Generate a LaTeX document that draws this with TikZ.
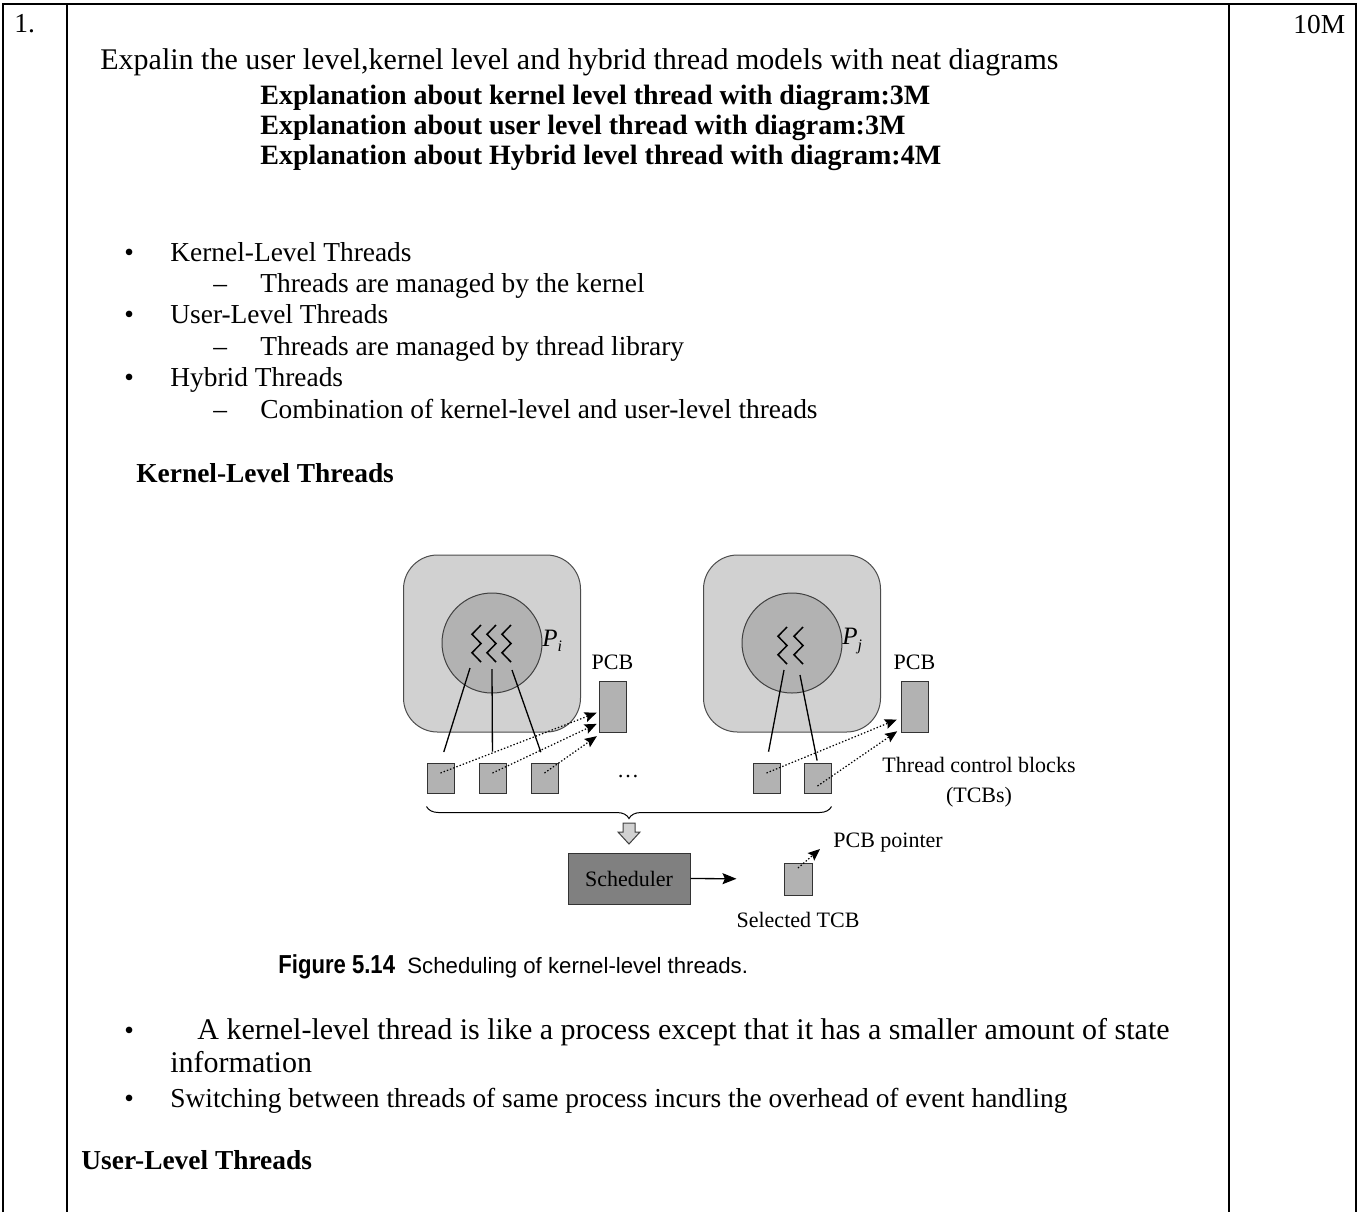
\documentclass[tikz,border=0pt]{standalone}
\usepackage{fontspec}
\setmainfont{Liberation Serif}
\setsansfont{Liberation Sans}
\usetikzlibrary{positioning,arrows.meta,decorations.pathreplacing}

\tikzset{
  body/.style={anchor=base west, inner sep=0pt, font=\fontsize{13.7}{16}\selectfont},
  bodybf/.style={body, font=\fontsize{14}{16}\selectfont\bfseries},
  bodyl/.style={body, font=\fontsize{15}{17}\selectfont},
  fig/.style={inner sep=0pt, font=\fontsize{11}{15}\selectfont},
  rule/.style={line width=1.2pt},
  proc/.style={draw=black!70, fill=black!18, rounded corners=17pt, minimum width=88.5pt, minimum height=88.5pt, line width=0.5pt},
  core/.style={circle, draw=black!75, fill=black!30, minimum size=50pt, line width=0.5pt},
  tcb/.style={draw=black!80, fill=black!30, minimum width=13.5pt, minimum height=15pt, inner sep=0pt, line width=0.5pt},
  pcb/.style={tcb, minimum height=25.5pt},
  link/.style={line width=0.65pt},
  ptr/.style={dash pattern=on 0.7pt off 1pt, line width=0.6pt, -{Stealth[length=6pt,width=5pt,inset=1pt]}},
}
\newcommand{\zigzag}[2]{\draw[line width=0.75pt] (#1+9,#2) -- ++(-9,9.25) -- ++(9,9.25) -- ++(-9,9.25) -- ++(9,9.25);}

\begin{document}
\begin{tikzpicture}[x=0.5pt,y=-0.5pt]
  \useasboundingbox (0,0) rectangle (1359,1212);

  % table frame
  \draw[rule] (3,1212) -- (3,4) -- (1356,4) -- (1356,1212);
  \draw[rule] (67,4) -- (67,1212);
  \draw[rule] (1229,4) -- (1229,1212);

  \node[body] (num) at (14,32) {1.};
  \node[body] (marks) at (1293,33) {10M};

  \node[bodyl] (question) at (100,69) {Expalin the user level,kernel level and hybrid thread models with neat diagrams};
  \node[bodybf] (schemeA) at (260,104) {Explanation about kernel level thread with diagram:3M};
  \node[bodybf] (schemeB) at (260,134) {Explanation about user level thread with diagram:3M};
  \node[bodybf] (schemeC) at (260,164) {Explanation about Hybrid level thread with diagram:4M};

  % bullet list
  \node[body] (dotA) at (124,261) {\textbullet};
  \node[body] (itemA) at (170,261) {Kernel-Level Threads};
  \node[body] (dashA) at (213,292) {--};
  \node[body] (subA) at (260,292) {Threads are managed by the kernel};
  \node[body] (dotB) at (124,323) {\textbullet};
  \node[body] (itemB) at (170,323) {User-Level Threads};
  \node[body] (dashB) at (213,355) {--};
  \node[body] (subB) at (260,355) {Threads are managed by thread library};
  \node[body] (dotC) at (124,386) {\textbullet};
  \node[body] (itemC) at (170,386) {Hybrid Threads};
  \node[body] (dashC) at (213,418) {--};
  \node[body] (subC) at (260,418) {Combination of kernel-level and user-level threads};

  \node[bodybf, font=\fontsize{13.7}{16}\selectfont\bfseries] (headK) at (136,482) {Kernel-Level Threads};

  % processes
  \node[proc] (procA) at (492,643.5) {};
  \node[core] (coreA) at (492,643) {};
  \node[proc] (procB) at (792,643.5) {};
  \node[core] (coreB) at (792,643) {};
  \zigzag{472}{625}
  \zigzag{487}{625}
  \zigzag{502}{625}
  \zigzag{778}{627}
  \zigzag{794}{627}
  \node[fig, anchor=west, font=\fontsize{12.5}{15}\selectfont] (labA) at (542,641) {\textit{P}\raisebox{-0.45ex}{\fontsize{8}{9}\selectfont\textit{i}}};
  \node[fig, anchor=west, font=\fontsize{12.5}{15}\selectfont] (labB) at (842,641) {\textit{P}\raisebox{-0.45ex}{\fontsize{8}{9}\selectfont\textit{j}}};

  % control blocks
  \node[pcb] (pcbA) at (612.5,706.5) {};
  \node[pcb] (pcbB) at (914.5,706.5) {};
  \node[fig, above=5pt of pcbA] {PCB};
  \node[fig, above=5pt of pcbB] {PCB};
  \node[tcb] (tcbA1) at (440.5,778) {};
  \node[tcb, right=12pt of tcbA1] (tcbA2) {};
  \node[tcb, right=12pt of tcbA2] (tcbA3) {};
  \node[tcb] (tcbB1) at (766.5,778) {};
  \node[tcb, right=11.5pt of tcbB1] (tcbB2) {};
  \node[fig] (more) at (628,776) {\dots};
  \node[fig, align=center] (tcblab) at (979,782) {Thread control blocks\\(TCBs)};

  \coordinate (thA1) at (470,668);
  \coordinate (thA2) at (492,669);
  \coordinate (thA3) at (512,670);
  \coordinate (thB1) at (784,670);
  \coordinate (thB2) at (800,675);
  \draw[link, shorten >=5.5pt] (thA1) -- (tcbA1.north);
  \draw[link, shorten >=5.5pt] (thA2) -- (tcbA2.north);
  \draw[link, shorten >=5.5pt] (thA3) -- (tcbA3.north);
  \draw[link, shorten >=5.5pt] (thB1) -- (tcbB1.north);
  \draw[link, shorten >=1pt] (thB2) -- (tcbB2.north);

  \draw[ptr, shorten >=1pt] ([yshift=2.5pt]tcbA1.center) -- ([yshift=-2.75pt]pcbA.west);
  \draw[ptr, shorten >=1pt] ([yshift=2.5pt]tcbA2.center) -- ([yshift=-8.25pt]pcbA.west);
  \draw[ptr, shorten >=1pt] ([yshift=2.5pt]tcbA3.center) -- ([yshift=-14.25pt]pcbA.west);
  \draw[ptr, shorten >=2pt] ([yshift=2.5pt]tcbB1.center) -- ([yshift=-5.75pt]pcbB.west);
  \draw[ptr, shorten >=2pt] ([yshift=-4pt]tcbB2.center) -- ([yshift=-11.25pt]pcbB.west);

  % scheduling
  \draw[decorate, decoration={brace, mirror, amplitude=6pt}, line width=0.5pt]
    ([yshift=-6.5pt]tcbA1.south west) -- ([yshift=-6.5pt]tcbB2.south east);
  \draw[draw=black!75, fill=black!18, line width=0.5pt]
    (623,823) -- (635,823) -- (635,832) -- (640,832) -- (629,844) -- (618,832) -- (623,832) -- cycle;
  \node[fig, draw=black!80, fill=black!50, minimum width=61pt, minimum height=25.5pt, line width=0.5pt] (sched) at (629,878.5) {Scheduler};
  \node[tcb, minimum width=14pt, minimum height=16pt] (seltcb) at (798,879) {};
  \node[fig, below=8pt of seltcb] (sellab) {Selected TCB};
  \node[fig, anchor=west] (ptrlab) at (833,843) {PCB pointer};
  \coordinate (ptrend) at (820,849);
  \draw[link, -{Stealth[length=7pt,width=5.5pt,inset=1.2pt]}, shorten >=23.5pt] (sched.east) -- (seltcb.west);
  \draw[ptr] ([yshift=5.5pt]seltcb.center) -- (ptrend);

  % caption
  \node[body, font=\sffamily] (figno) at (278,973) {\scalebox{0.85}[1]{\fontsize{13}{15}\selectfont\bfseries Figure 5.14}};
  \node[body, font=\fontsize{11.1}{13}\selectfont\sffamily] (figcap) at (407,973) {Scheduling of kernel-level threads.};

  % remarks
  \node[body] (dotD) at (124,1039) {\textbullet};
  \node[bodyl] (itemD) at (197,1039) {A kernel-level thread is like a process except that it has a smaller amount of state};
  \node[bodyl] (itemDb) at (170,1072) {information};
  \node[body] (dotE) at (124,1107) {\textbullet};
  \node[body] (itemE) at (170,1107) {Switching between threads of same process incurs the overhead of event handling};

  \node[bodybf, font=\fontsize{13.7}{16}\selectfont\bfseries] (headU) at (81,1169) {User-Level Threads};
\end{tikzpicture}
\end{document}
